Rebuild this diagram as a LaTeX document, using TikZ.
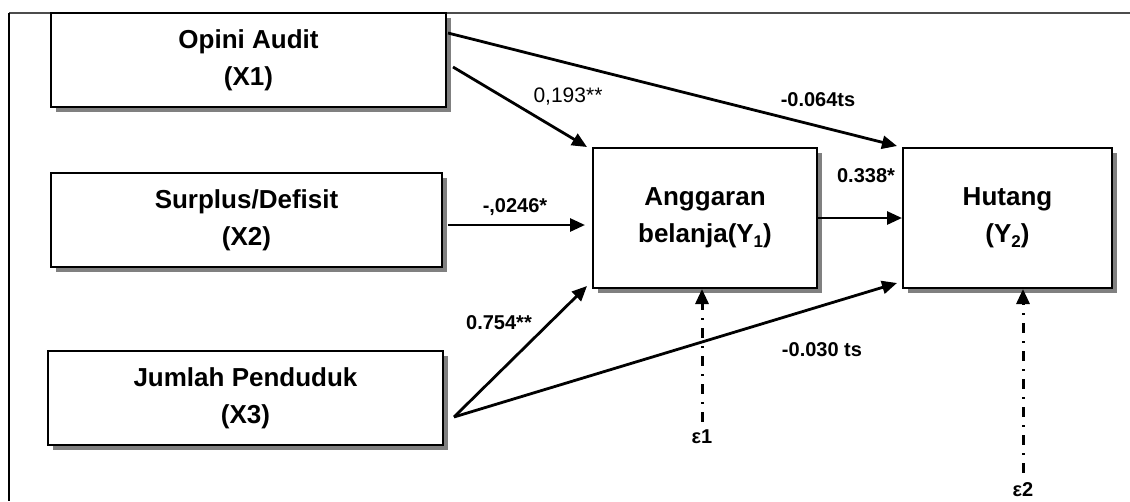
\documentclass[tikz,border=0pt]{standalone}
\usepackage{fontspec}
\setmainfont{Liberation Sans}
\usetikzlibrary{arrows.meta,calc,shadows}
\newcommand{\lowsub}[1]{\raisebox{-0.35ex}{\fontsize{17}{17}\selectfont #1}}
\begin{document}
\begin{tikzpicture}[x=1pt,y=-1pt,
 box/.style={draw=black, line width=2pt, fill=white, align=center,
   font=\fontsize{26}{37}\selectfont\bfseries, inner sep=0pt,
   general shadow={fill=black!50, shadow xshift=5pt, shadow yshift=-5pt}},
 arr/.style={line width=2.8pt, -{Triangle[length=15pt,width=13pt]}},
 err/.style={line width=3pt, dash pattern=on 10pt off 8pt on 2pt off 8pt,
   -{Triangle[length=15pt,width=13pt]}},
 lab/.style={font=\fontsize{20}{24}\selectfont\bfseries, inner sep=0pt},
 labr/.style={font=\fontsize{21}{24}\selectfont, inner sep=0pt},
]
\useasboundingbox (0,0) rectangle (1130,501);
\draw[line width=1.5pt, black!70] (9,13) -- (1130,13);
\draw[line width=1.5pt] (9,13) -- (9,501);

\node[box, minimum width=395pt, minimum height=94pt] (X1) at (248.5,60) {Opini Audit\\(X1)};
\node[box, minimum width=391pt, minimum height=94pt] (X2) at (246.5,220) {Surplus/Defisit\\(X2)};
\node[box, minimum width=395pt, minimum height=94pt] (X3) at (245.5,398) {Jumlah Penduduk\\(X3)};
\node[box, minimum width=224pt, minimum height=140pt] (Y1) at (705,218) {Anggaran\\belanja(Y\lowsub{1})};
\node[box, minimum width=209pt, minimum height=140pt] (Y2) at (1007.5,218) {Hutang\\(Y\lowsub{2})};

\node[lab] (e1) at (702,437) {ε1};
\node[lab] (e2) at (1023,490) {ε2};

\draw[arr] ($(X1.east)+(1,-27)$) -- ($(Y2.north west)+(-5,-1)$);
\draw[arr] ($(X1.east)+(6,7)$) -- ($(Y1.north west)+(-5,0)$);
\draw[arr] ($(X2.east)+(5,5)$) -- ($(Y1.west)+(-7,7)$);
\draw[arr] (Y1.east) -- (Y2.west);
\draw[arr] ($(X3.east)+(10,19)$) -- ($(Y1.south west)+(-5,-3)$);
\draw[arr] ($(X3.east)+(10,19)$) -- ($(Y2.south west)+(-5,-6)$);
\draw[err] ($(e1.north)+(0,-8)$) -- (Y1.south -| e1);
\draw[err] ($(e2.north)+(0,-10)$) -- (Y2.south -| e2);

\node[labr] (l1) at (568,97) {0,193**};
\node[lab] (l2) at (818,100) {-0.064ts};
\node[lab] (l3) at (515,207) {-,0246*};
\node[lab] (l4) at (866,176) {0.338*};
\node[lab] (l5) at (499,323) {0.754**};
\node[lab] (l6) at (822,350) {-0.030 ts};
\end{tikzpicture}
\end{document}
